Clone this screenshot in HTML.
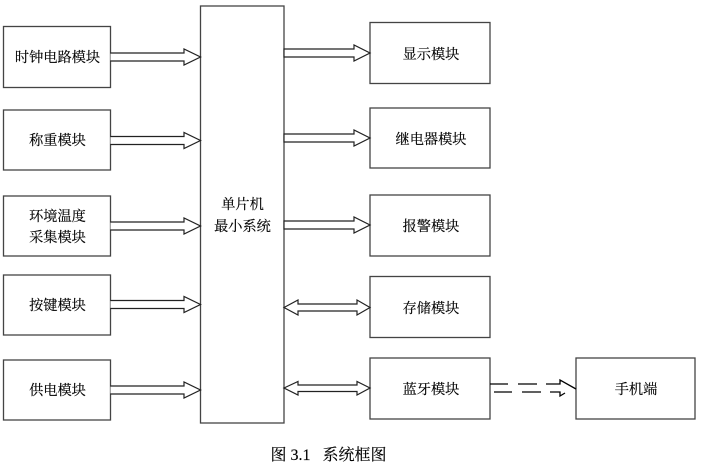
<!DOCTYPE html>
<html><head><meta charset="utf-8"><style>
html,body{margin:0;padding:0;background:#fff}
svg{display:block}
text{font-family:"Liberation Serif","Noto Serif CJK SC",serif;font-size:14.200px;fill:#000;stroke:#000;stroke-width:.15;text-anchor:middle}
.b{fill:#fff;stroke:#444;stroke-width:1.3}
.a{fill:#fff;stroke:#222;stroke-width:1.2}
.d{stroke:#000;stroke-width:1.300;fill:none}
</style></head><body>
<svg width="707" height="470" viewBox="0 0 707 470" xmlns="http://www.w3.org/2000/svg">
<rect class="b" x="3.5" y="26.5" width="107" height="61"/>
<rect class="b" x="3.5" y="110" width="107" height="60"/>
<rect class="b" x="3.5" y="196" width="107" height="60"/>
<rect class="b" x="3.5" y="275" width="107" height="60"/>
<rect class="b" x="3.5" y="360" width="107" height="60"/>
<rect class="b" x="200.5" y="6" width="83.5" height="417"/>
<rect class="b" x="370" y="22.5" width="120" height="61"/>
<rect class="b" x="370" y="108" width="120" height="60"/>
<rect class="b" x="370" y="195" width="120" height="61"/>
<rect class="b" x="370" y="276.5" width="120" height="61"/>
<rect class="b" x="370" y="358" width="120" height="61"/>
<rect class="b" x="576" y="358" width="119" height="61"/>

<path class="a" d="M110.5 53H184V49L200.5 57 184 65V61H110.5"/>
<path class="a" d="M110.5 136.500H184V132.500L200.500 140.500 184 148.500V144.500H110.500"/>
<path class="a" d="M110.5 222H184V218L200.500 226 184 234V230H110.500"/>
<path class="a" d="M110.5 300.500H184V296.500L200.500 304.500 184 312.500V308.500H110.500"/>
<path class="a" d="M110.5 386H184V382L200.500 390 184 398V394H110.500"/>

<path class="a" d="M284 49H354V45L370 53 354 61V57H284Z"/>
<path class="a" d="M284 134H354V130L370 138 354 146V142H284Z"/>
<path class="a" d="M284 221H354V217L370 225 354 233V229H284Z"/>
<path class="a" d="M284 307.500L298 300V304H357V300L370 307.500 357 315V311H298V315Z"/>
<path class="a" d="M284 388L298 381.500V385H357V381.500L370 388 357 395V391.500H298V395Z"/>

<path class="d" d="M490 384H508M518 384H537M546 384H560L560 380L576 389M494 392H512M522 392H541M550 392H560V396L565 393"/>

<text x="57.500" y="62">时钟电路模块</text>
<text x="57.500" y="145">称重模块</text>
<text x="57.500" y="221">环境温度</text>
<text x="57.500" y="242">采集模块</text>
<text x="57.500" y="310">按键模块</text>
<text x="57.500" y="395">供电模块</text>
<text x="242.500" y="209">单片机</text>
<text x="242.500" y="231">最小系统</text>
<text x="431" y="59">显示模块</text>
<text x="431" y="144">继电器模块</text>
<text x="431" y="231">报警模块</text>
<text x="431" y="313">存储模块</text>
<text x="431" y="394">蓝牙模块</text>
<text x="636" y="394">手机端</text>
<text x="328.500" y="460" style="font-size:16px">图 3.1&#160;&#160;&#160;系统框图</text>
</svg>
</body></html>
